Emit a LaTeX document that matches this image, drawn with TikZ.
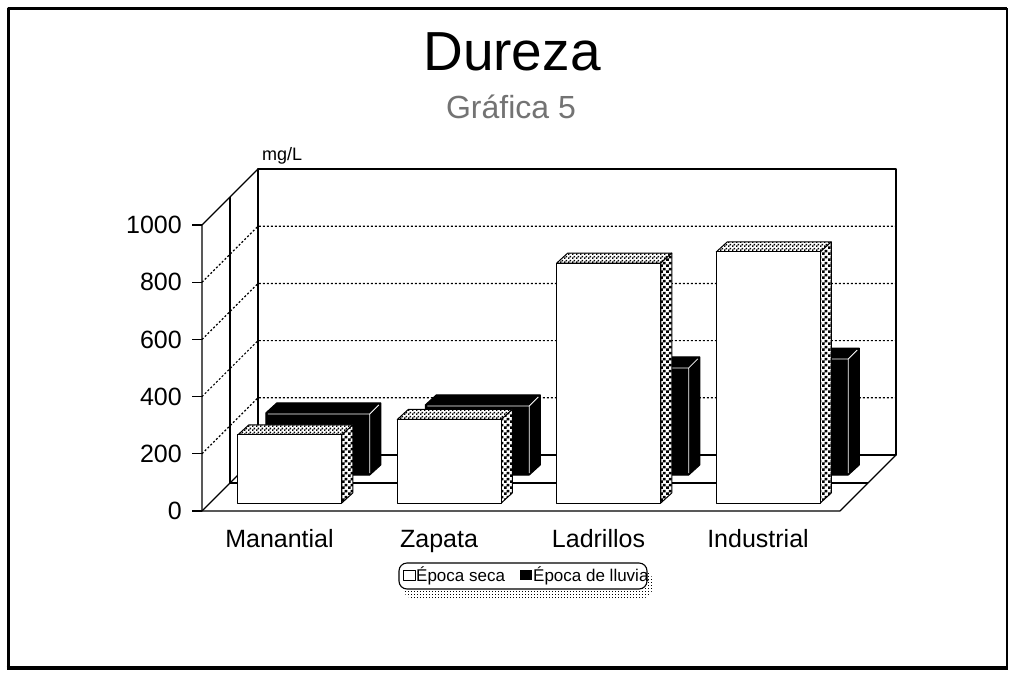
\documentclass[tikz,border=0pt]{standalone}
\usepackage{fontspec}
\setmainfont{Liberation Sans}
\usetikzlibrary{patterns}
\pgfdeclarepatternformonly{sidechk}{\pgfpointorigin}{\pgfqpoint{6pt}{6pt}}{\pgfqpoint{6pt}{6pt}}{%
 \pgfpathrectangle{\pgfpointorigin}{\pgfqpoint{3pt}{3pt}}%
 \pgfpathrectangle{\pgfqpoint{3pt}{3pt}}{\pgfqpoint{3pt}{3pt}}%
 \pgfusepath{fill}}
\pgfdeclarepatternformonly{topchk}{\pgfpointorigin}{\pgfqpoint{4pt}{4pt}}{\pgfqpoint{4pt}{4pt}}{%
 \pgfpathrectangle{\pgfpointorigin}{\pgfqpoint{1.8pt}{1.8pt}}%
 \pgfpathrectangle{\pgfqpoint{2pt}{2pt}}{\pgfqpoint{1.8pt}{1.8pt}}%
 \pgfusepath{fill}}
\pgfdeclarepatternformonly{shadowdots}{\pgfpointorigin}{\pgfqpoint{3pt}{3pt}}{\pgfqpoint{3pt}{3pt}}{%
 \pgfpathrectangle{\pgfpointorigin}{\pgfqpoint{1.1pt}{1.1pt}}%
 \pgfusepath{fill}}
\begin{document}
\begin{tikzpicture}[x=1pt,y=-1pt,line join=round,
  gridline/.style={line width=1.2pt,dash pattern=on 2pt off 2pt},
  axisline/.style={line width=1.1pt},
  barline/.style={line width=1pt},
  ylab/.style={anchor=east,font=\fontsize{25}{28}\selectfont,inner sep=0pt},
  catlab/.style={anchor=base,font=\fontsize{25}{28}\selectfont,inner sep=0pt},
  leglab/.style={anchor=west,font=\fontsize{17}{19}\selectfont,inner sep=0pt}]
\useasboundingbox (0,0) rectangle (1009,675);
\fill[white] (0,0) rectangle (1009,675);

% outer frame
\draw[line width=3pt] (8,668) -- (8,8) -- (1007,8);
\draw[line width=1.2pt] (1007,8) -- (1007,668);
\draw[line width=4pt] (6.5,668) -- (1008,668);

% titles
\node[anchor=base,font=\fontsize{55}{60}\selectfont,inner sep=0pt] (title) at (512,70) {Dureza};
\node[anchor=base,font=\fontsize{32}{36}\selectfont,text=black!55,inner sep=0pt] (subtitle) at (511,118) {Gráfica 5};
\node[anchor=base west,font=\fontsize{18}{20}\selectfont,inner sep=0pt] (unit) at (262,160) {mg/L};

% walls and floor
\coordinate (F0) at (202,511);
\coordinate (F1) at (202,225);
\coordinate (B0) at (258,455);
\coordinate (B1) at (258,169);
\coordinate (BR0) at (896,455);
\coordinate (BR1) at (896,169);
\coordinate (FR0) at (840,511);
\draw[axisline] (B0) rectangle (BR1);
\draw[axisline] (F0) -- (F1) -- (B1);
\draw[axisline] (F0) -- (B0);
\draw[axisline] (F0) -- (FR0) -- (BR0);
\draw[axisline] (230,483) -- (230,197);
\draw[axisline] (230,483) -- (868,483);
\foreach \k in {1,2,3,4} {
  \pgfmathsetmacro\yy{511-57.2*\k}
  \draw[gridline] (202,\yy) -- (258,\yy-56) -- (896,\yy-56);
}
\foreach \k in {0,1,2,3,4,5} {
  \pgfmathsetmacro\yy{511-57.2*\k}
  \pgfmathtruncatemacro\lab{200*\k}
  \draw[axisline] (192,\yy) -- (202,\yy);
  \node[ylab] (yl\k) at (182,\yy) {\lab};
}

% back row: Epoca de lluvia (black)
\foreach \v [count=\i from 0] in {217,245,378,409} {
  \pgfmathsetmacro\xl{237.75+159.5*\i+28}
  \pgfmathsetmacro\yb{475}
  \pgfmathsetmacro\yt{\yb-\v*0.286}
  \pgfmathsetmacro\xr{\xl+104}
  \filldraw[fill=black,draw=black,barline] (\xl,\yb) -- (\xl,\yt) -- (\xl+11,\yt-10) -- (\xr+11,\yt-10) -- (\xr+11,\yb-10) -- (\xr,\yb) -- cycle;
  \draw[white,line width=0.8pt] (\xl+2,\yt+1) -- (\xr,\yt+1) -- (\xr,\yb-2) (\xr,\yt+1) -- (\xr+9,\yt-8);
}

% front row: Epoca seca (white)
\foreach \v [count=\i from 0] in {238,292,839,878} {
  \pgfmathsetmacro\xl{237.75+159.5*\i}
  \pgfmathsetmacro\yb{503}
  \pgfmathsetmacro\yt{\yb-\v*0.286}
  \pgfmathsetmacro\xr{\xl+104}
  \draw[barline,preaction={fill=white},pattern=topchk] (\xl,\yt) -- (\xl+11,\yt-10) -- (\xr+11,\yt-10) -- (\xr,\yt) -- cycle;
  \draw[barline,preaction={fill=white},pattern=sidechk] (\xr,\yb) -- (\xr,\yt) -- (\xr+11,\yt-10) -- (\xr+11,\yb-10) -- cycle;
  \draw[barline,fill=white] (\xl,\yb) rectangle (\xr,\yt);
}

% category labels
\foreach \c [count=\i from 0] in {Manantial,Zapata,Ladrillos,Industrial} {
  \node[catlab] (cat\i) at (279.5+159.5*\i,547) {\c};
}

% legend
\fill[pattern=shadowdots] (404,571) [rounded corners=8pt] rectangle (652,598);
\draw[line width=1.1pt,fill=white,rounded corners=8pt] (399,563) rectangle (647,589);
\draw[line width=1pt,fill=white] (403,570) rectangle (415,580);
\node[leglab] (leg1) at (416,576) {Época seca};
\fill[black] (520,570) rectangle (532,580);
\node[leglab] (leg2) at (533,576) {Época de lluvia};
\end{tikzpicture}
\end{document}
